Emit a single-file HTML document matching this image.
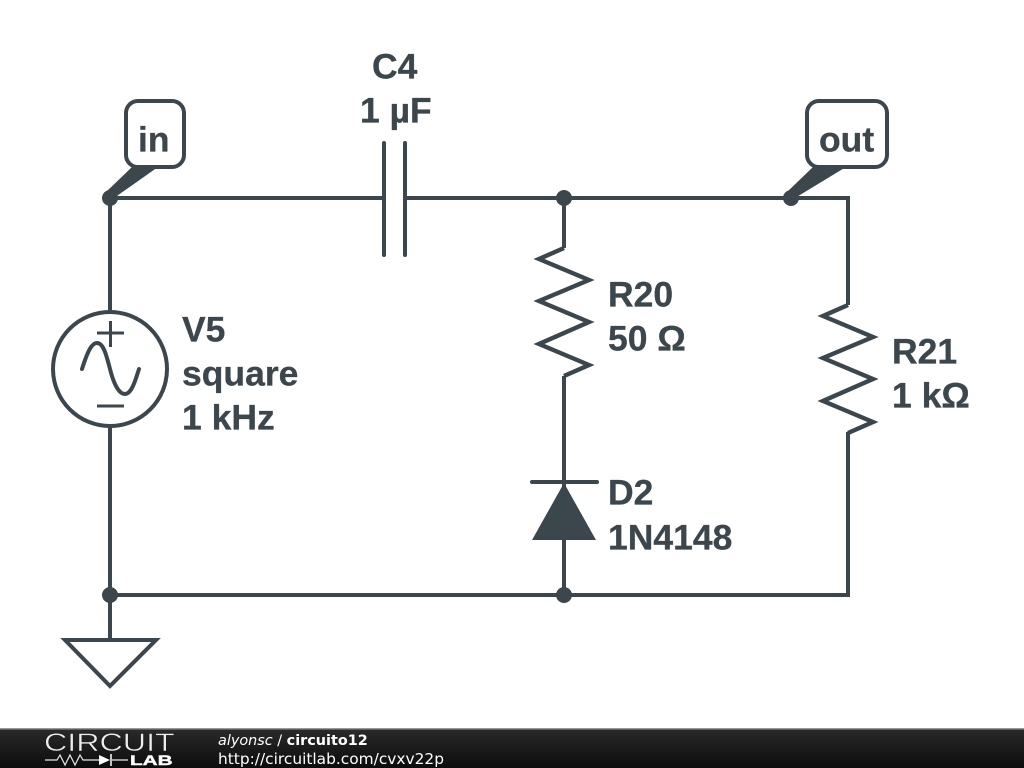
<!DOCTYPE html>
<html>
<head>
<meta charset="utf-8">
<style>
html,body{margin:0;padding:0;background:#fff;width:1024px;height:768px;overflow:hidden}
svg{display:block}
.l{font-family:"Liberation Sans",sans-serif;font-weight:bold;font-size:35.500px;fill:#3c474d;stroke:#3c474d;stroke-width:0.3}
.f{font-family:"DejaVu Sans",sans-serif;fill:#fff}
</style>
</head>
<body>
<svg width="1024" height="768" viewBox="0 0 1024 768" xmlns="http://www.w3.org/2000/svg">
<defs>
<linearGradient id="g" x1="0" y1="0" x2="0" y2="1"><stop offset="0" stop-color="#2a2a2a"/><stop offset="1" stop-color="#0c0c0c"/></linearGradient>
</defs>
<rect width="1024" height="768" fill="#fff"/>
<g fill="none" stroke="#3c474d" stroke-width="4">
<path d="M110 198H384M404 198H848V305M110 198V312M110 425V640M110 595H848V432M564 198V248M564 376V595"/>
<path d="M384 143V255M405 143V255" stroke-linecap="round"/>
<path d="M564 248L539 259L589 280L539 301L589 322L539 344L589 365L564 376" stroke-width="4.400"/>
<path d="M848 305L823 316L873 337L823 358L873 379L823 401L873 422L848 433" stroke-width="4.400"/>
<circle cx="110" cy="369" r="57"/>
<path d="M97 333H124M110.500 321V347M97 406H124" stroke-width="3"/>
<path d="M82 369C88 350 92 343 97 343C104 343 107 358 110 369C113 381 118 394 125 394C132 394 136 378 139 369" stroke-linecap="round"/>
<path d="M532 482H597" stroke-linecap="round"/>
<path d="M65 640H156L110 686Z"/>
<rect x="126" y="101" width="58" height="66" rx="12" fill="#fff"/>
<rect x="807" y="101" width="80" height="66" rx="12" fill="#fff"/>
</g>
<g fill="#3c474d">
<path d="M132 167L158 167L114 198L106 192Z"/>
<path d="M813 167L846 167L795 198L787 192Z"/>
<path d="M564 483L596 540H532Z"/>
<circle cx="110" cy="198" r="8"/>
<circle cx="564" cy="198" r="8"/>
<circle cx="791" cy="198" r="8"/>
<circle cx="110" cy="595" r="8"/>
<circle cx="564" cy="595" r="8"/>
</g>
<text x="372" y="78.500" class="l">C4</text>
<text x="360" y="122.500" class="l">1 µF</text>
<text x="138" y="151.500" class="l">in</text>
<text x="819" y="151.500" class="l">out</text>
<text x="182" y="341.500" class="l">V5</text>
<text x="182" y="385.500" class="l">square</text>
<text x="182" y="429.500" class="l">1 kHz</text>
<text x="608" y="306.500" class="l">R20</text>
<text x="608" y="350.500" class="l">50 Ω</text>
<text x="892" y="363.500" class="l">R21</text>
<text x="892" y="407.500" class="l">1 kΩ</text>
<text x="608" y="504.500" class="l">D2</text>
<text x="608" y="549.500" class="l">1N4148</text>
<rect y="729" width="1024" height="39" fill="url(#g)"/>
<rect y="728" width="1024" height="1.500" fill="#999"/>
<text transform="translate(44 751) scale(1.29 1)" font-family="'Liberation Sans',sans-serif" font-size="25" fill="#eee" stroke="#1a1a1a" stroke-width="0.500">CIRCUIT</text>
<path d="M45 760H57L60 755L65 765L70 755L75 765L80 755L83 760H99M112 760H128" fill="none" stroke="#e8e8e8" stroke-width="1.200"/>
<path d="M99 755L110 760L99 765Z" fill="#fff"/>
<path d="M111 754V766" stroke="#fff" stroke-width="1.500"/>
<text transform="translate(130 765) scale(1.48 1)" font-family="'Liberation Sans',sans-serif" font-weight="bold" font-size="14" fill="#fff" stroke="#fff" stroke-width="0.400">LAB</text>
<text x="218" y="745" class="f" font-size="14.400"><tspan font-style="italic">alyonsc</tspan> / <tspan font-weight="bold">circuito12</tspan></text>
<text x="218" y="764" class="f" font-size="15.400">http://circuitlab.com/cvxv22p</text>
</svg>
</body>
</html>
